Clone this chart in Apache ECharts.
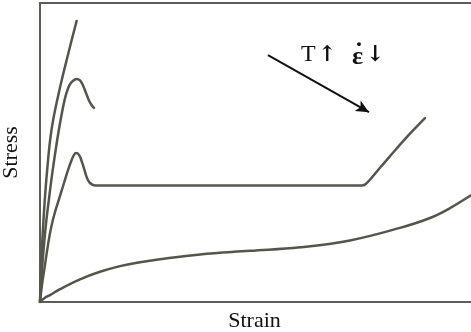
<!DOCTYPE html>
<html>
<head>
<meta charset="utf-8">
<script src="https://cdn.jsdelivr.net/npm/echarts@6/dist/echarts.min.js"></script>
<style>
  html, body { margin: 0; padding: 0; background: #ffffff; }
  #chart { width: 471px; height: 332px; }
</style>
</head>
<body>
<div id="chart"></div>
<script>
// Schematic stress–strain curves (arbitrary units, strain 0–10, stress 0–10).

// Brittle response: nearly linear, steep rise to fracture.
const brittleStrain = [0, 0.023, 0.053, 0.108, 0.162, 0.230, 0.298, 0.441, 0.594, 0.713, 0.831];
const brittleStress = [0, 1.07, 2.07, 3.41, 4.41, 5.42, 6.09, 7.09, 8.03, 8.73, 9.40];

// Yield peak followed by early failure.
const yieldFailStrain = [0, 0.045, 0.100, 0.145, 0.200, 0.288, 0.390, 0.467, 0.558, 0.639, 0.721, 0.828, 0.907, 0.975, 1.043, 1.111, 1.168, 1.224];
const yieldFailStress = [0, 1.07, 2.07, 2.74, 3.41, 4.41, 5.42, 6.09, 6.76, 7.16, 7.36, 7.46, 7.41, 7.24, 6.99, 6.74, 6.59, 6.49];

// Yield peak, necking/drawing plateau, then strain hardening.
const drawStrain = [0, 0.045, 0.113, 0.181, 0.249, 0.340, 0.431, 0.544, 0.635, 0.726, 0.771, 0.816, 0.884, 0.952, 1.009, 1.066, 1.134, 1.247, 3.628, 5.896, 7.302, 7.392, 7.710, 8.073, 8.390, 8.730];
const drawStress = [0, 0.57, 1.24, 1.91, 2.47, 3.01, 3.44, 3.98, 4.41, 4.78, 4.92, 4.98, 4.92, 4.68, 4.41, 4.15, 3.98, 3.90, 3.90, 3.90, 3.90, 3.95, 4.49, 5.11, 5.63, 6.15];

// Rubber-like response: low modulus, upturn at large strain.
const rubberStrain = [0, 0.113, 0.227, 0.454, 0.907, 1.361, 1.814, 2.268, 2.721, 3.628, 4.762, 5.896, 7.029, 8.163, 8.844, 9.297, 9.773, 10.0];
const rubberStress = [0, 0.14, 0.23, 0.43, 0.76, 1.01, 1.20, 1.33, 1.43, 1.59, 1.71, 1.83, 2.06, 2.48, 2.81, 3.14, 3.57, 3.80];

// Trend arrow: increasing temperature / decreasing strain rate.
const arrowFrom = [5.17, 8.26];
const arrowTo = [7.46, 6.35];

const xAxisName = 'Strain';
const yAxisName = 'Stress';

const pairs = (xs, ys) => xs.map((x, i) => [x, ys[i]]);

const curveColor = '#55554a';
const serif = '"Liberation Serif", "DejaVu Serif", serif';

function curve(name, xs, ys) {
  return {
    name: name,
    type: 'line',
    data: pairs(xs, ys),
    showSymbol: false,
    smooth: 0.4,
    clip: true,
    silent: true,
    lineStyle: { color: curveColor, width: 2.5, cap: 'round', join: 'round' },
    animation: false
  };
}

const rubber = curve('rubber', rubberStrain, rubberStress);
rubber.markLine = {
  silent: true,
  animation: false,
  symbol: ['none', 'arrow'],
  symbolSize: [9, 13],
  label: { show: false },
  lineStyle: { color: '#111111', width: 2, type: 'solid' },
  data: [[{ coord: arrowFrom }, { coord: arrowTo }]]
};

const chart = echarts.init(document.getElementById('chart'), null, { renderer: 'canvas' });
chart.setOption({
  animation: false,
  backgroundColor: '#ffffff',
  grid: {
    left: 40, top: 3, width: 441, height: 299,
    containLabel: false, outerBoundsMode: 'none',
    show: true, borderColor: '#5d5d58', borderWidth: 2, backgroundColor: 'transparent'
  },
  xAxis: {
    type: 'value', min: 0, max: 10,
    name: xAxisName, nameLocation: 'middle', nameGap: 8,
    nameTextStyle: { fontFamily: serif, fontSize: 22, color: '#111111', padding: [0, 12, 0, 0] },
    axisLine: { show: false }, axisTick: { show: false },
    axisLabel: { show: false }, splitLine: { show: false }
  },
  yAxis: {
    type: 'value', min: 0, max: 10,
    name: yAxisName, nameLocation: 'middle', nameGap: 18,
    nameTextStyle: { fontFamily: serif, fontSize: 22, color: '#111111' },
    axisLine: { show: false }, axisTick: { show: false },
    axisLabel: { show: false }, splitLine: { show: false }
  },
  graphic: [
    { type: 'text', x: 301, y: 55, silent: true,
      style: { text: 'T', font: '24px ' + serif, fill: '#111111', verticalAlign: 'middle' } },
    { type: 'text', x: 318, y: 55, silent: true,
      style: { text: '↑', font: 'bold 22px "DejaVu Serif", serif', fill: '#111111', verticalAlign: 'middle' } },
    { type: 'text', x: 352, y: 57, silent: true,
      style: { text: 'ε', font: 'bold 26px ' + serif, fill: '#111111', verticalAlign: 'middle' } },
    { type: 'text', x: 355, y: 46, silent: true,
      style: { text: '·', font: 'bold 24px ' + serif, fill: '#111111', verticalAlign: 'middle' } },
    { type: 'text', x: 366, y: 55, silent: true,
      style: { text: '↓', font: 'bold 22px "DejaVu Serif", serif', fill: '#111111', verticalAlign: 'middle' } }
  ],
  series: [
    curve('brittle', brittleStrain, brittleStress),
    curve('yield-fail', yieldFailStrain, yieldFailStress),
    curve('drawing', drawStrain, drawStress),
    rubber
  ]
});
</script>
</body>
</html>
